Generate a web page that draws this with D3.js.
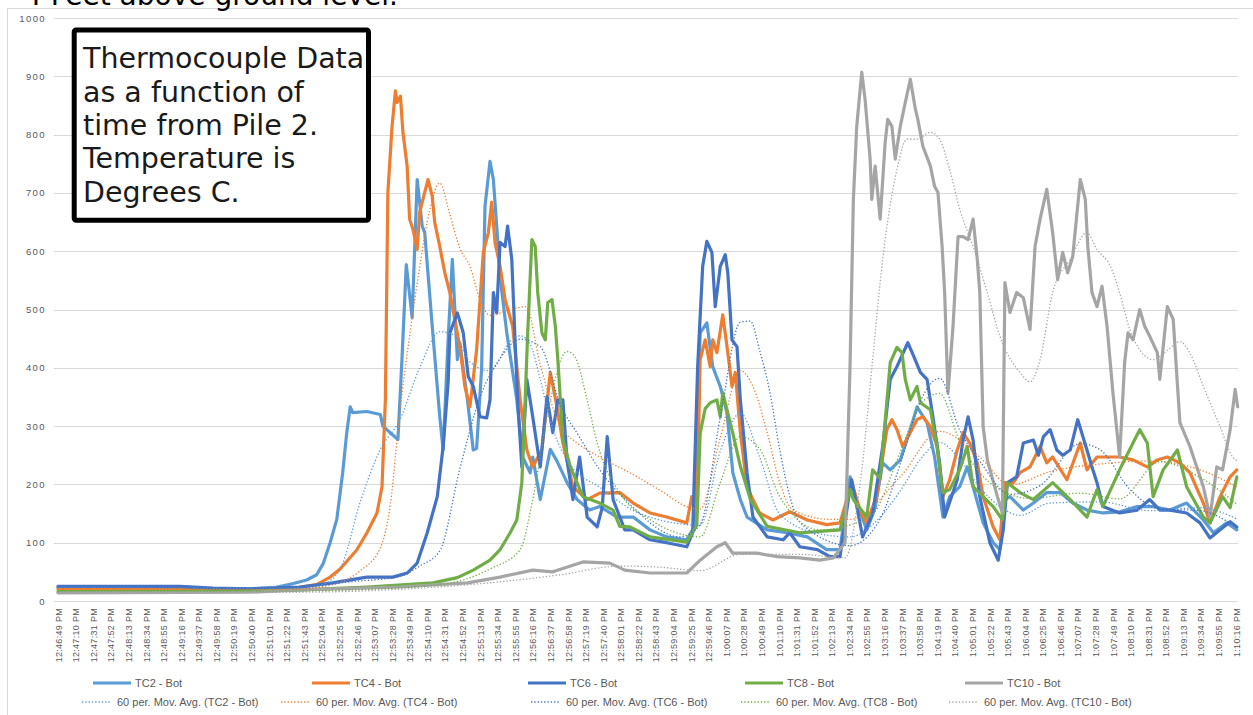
<!DOCTYPE html>
<html>
<head>
<meta charset="utf-8">
<script src="https://cdn.jsdelivr.net/npm/d3@7"></script>
<style>
  body { margin: 0; background: #fff; }
  svg { display: block; }
</style>
</head>
<body>
<div id="chart"></div>
<script>
// readings: [seconds after 12:46:49 PM, temperature in deg C]
var tc2 = [[0,23],[146,23],[185,21],[229,21],[259,23],[281,30],[297,36],[309,45],[317,65],[325,100],[333,140],[340,220],[345,290],[349,333],[352,323],[369,325],[385,320],[388,300],[406,277],[411,420],[416,577],[423,486],[429,723],[435,643],[438,632],[447,471],[451,402],[456,316],[460,259],[466,450],[471,586],[477,414],[480,443],[489,345],[496,259],[500,262],[506,400],[510,677],[516,754],[520,723],[524,643],[528,557],[536,460],[548,345],[555,247],[564,220],[567,247],[576,174],[588,260],[596,240],[608,203],[620,174],[635,156],[647,162],[668,144],[687,144],[707,122],[727,110],[751,105],[761,130],[767,460],[775,477],[782,402],[791,368],[799,323],[806,220],[815,174],[823,144],[847,122],[871,117],[895,110],[918,88],[934,88],[946,213],[954,170],[966,122],[976,160],[985,237],[994,225],[1006,242],[1018,294],[1026,333],[1038,306],[1047,247],[1057,144],[1065,179],[1077,196],[1086,230],[1093,196],[1105,134],[1117,100],[1125,88],[1131,174],[1137,179],[1153,156],[1165,168],[1181,186],[1197,186],[1212,168],[1229,156],[1248,151],[1268,153],[1289,162],[1308,162],[1328,156],[1348,168],[1368,139],[1380,117],[1396,134],[1408,122]];
var tc4 = [[0,20],[170,20],[217,19],[277,21],[309,28],[325,41],[337,55],[357,88],[369,117],[381,151],[387,196],[391,345],[394,701],[399,814],[403,875],[405,855],[409,866],[412,804],[417,746],[420,655],[424,637],[429,603],[432,667],[438,701],[442,723],[447,694],[450,649],[456,608],[462,563],[468,529],[474,482],[480,436],[486,368],[492,333],[500,431],[508,598],[514,632],[518,684],[522,615],[528,574],[534,517],[543,471],[552,345],[560,259],[567,230],[578,260],[588,392],[596,333],[603,271],[615,196],[632,174],[647,185],[671,186],[687,168],[707,151],[727,144],[751,134],[757,179],[763,150],[767,414],[773,448],[779,402],[782,448],[787,426],[794,491],[800,426],[805,368],[809,392],[815,289],[823,196],[830,174],[838,151],[854,139],[874,153],[895,139],[918,131],[934,134],[948,203],[958,156],[966,134],[978,180],[990,294],[996,311],[1002,294],[1009,265],[1018,289],[1026,311],[1033,316],[1042,299],[1050,265],[1057,179],[1065,208],[1074,259],[1081,289],[1089,271],[1098,237],[1105,179],[1117,127],[1125,105],[1131,203],[1141,203],[1149,220],[1161,230],[1173,265],[1181,237],[1188,247],[1205,208],[1221,271],[1229,225],[1241,247],[1268,247],[1284,242],[1301,230],[1313,242],[1325,247],[1340,237],[1352,220],[1368,168],[1376,134],[1388,179],[1400,213],[1408,225]];
var tc6 = [[0,25],[146,25],[185,22],[229,21],[289,24],[328,31],[369,41],[400,41],[417,48],[429,65],[441,117],[453,179],[460,265],[466,375],[468,460],[477,494],[484,460],[490,385],[496,368],[504,316],[512,314],[516,345],[520,529],[524,494],[528,615],[534,608],[537,643],[542,586],[546,443],[549,345],[554,230],[560,380],[567,316],[576,230],[584,350],[591,289],[597,345],[603,345],[608,242],[615,174],[623,247],[632,144],[644,127],[650,160],[656,282],[663,174],[677,122],[687,122],[707,105],[727,100],[751,93],[758,117],[764,402],[770,574],[775,617],[781,598],[785,505],[791,574],[797,594],[800,563],[805,448],[811,436],[815,345],[823,220],[830,144],[847,110],[866,105],[874,117],[886,93],[907,88],[922,76],[934,76],[944,174],[948,208],[961,110],[973,150],[985,265],[994,380],[1002,402],[1015,443],[1022,420],[1030,392],[1038,380],[1045,316],[1053,237],[1059,144],[1074,208],[1081,276],[1087,316],[1093,276],[1101,179],[1113,100],[1123,70],[1129,122],[1134,203],[1145,213],[1153,271],[1165,276],[1171,250],[1177,282],[1185,294],[1193,259],[1200,250],[1209,259],[1218,311],[1229,259],[1236,225],[1241,203],[1248,162],[1268,151],[1289,156],[1304,174],[1316,156],[1328,156],[1348,151],[1364,134],[1376,108],[1388,122],[1400,136],[1408,127]];
var tc8 = [[0,16],[229,17],[289,19],[369,24],[448,31],[477,40],[496,53],[516,70],[528,88],[540,117],[548,139],[554,203],[558,345],[561,460],[566,620],[570,608],[573,529],[578,460],[582,448],[585,512],[590,517],[594,471],[597,414],[603,277],[612,230],[627,179],[647,168],[663,156],[671,128],[683,127],[707,110],[751,101],[763,130],[767,288],[773,330],[779,340],[787,345],[791,316],[794,357],[806,288],[815,231],[827,174],[847,128],[886,117],[934,122],[946,191],[950,174],[966,144],[973,225],[982,210],[994,409],[1002,435],[1008,426],[1012,380],[1018,345],[1026,368],[1030,340],[1042,328],[1050,265],[1057,186],[1065,191],[1077,225],[1086,265],[1093,196],[1105,179],[1117,162],[1128,139],[1134,203],[1149,186],[1165,174],[1188,203],[1209,174],[1229,144],[1241,191],[1248,162],[1268,225],[1284,271],[1292,294],[1301,271],[1308,179],[1320,225],[1337,259],[1348,196],[1368,144],[1376,134],[1391,179],[1400,160],[1408,213]];
var tc10 = [[0,14],[229,15],[289,19],[408,24],[489,31],[528,41],[567,53],[591,50],[627,67],[659,65],[677,53],[707,48],[751,48],[767,70],[787,93],[797,100],[806,82],[835,82],[859,76],[886,74],[910,70],[926,74],[940,100],[946,402],[950,689],[954,814],[960,907],[964,860],[970,758],[972,689],[976,746],[982,655],[988,787],[991,826],[996,814],[1000,758],[1006,814],[1012,855],[1018,895],[1024,844],[1027,826],[1033,780],[1042,746],[1047,711],[1051,701],[1056,608],[1059,529],[1063,357],[1069,471],[1075,625],[1081,625],[1087,620],[1093,655],[1098,586],[1101,529],[1105,299],[1110,242],[1122,179],[1128,151],[1131,546],[1137,495],[1145,529],[1153,520],[1161,466],[1167,608],[1173,655],[1181,706],[1188,632],[1194,551],[1200,598],[1206,563],[1212,591],[1221,723],[1227,689],[1230,608],[1235,529],[1241,505],[1247,540],[1253,471],[1260,357],[1268,247],[1274,409],[1278,460],[1284,448],[1292,500],[1298,471],[1304,454],[1313,426],[1316,380],[1325,505],[1332,483],[1340,306],[1352,265],[1368,196],[1376,144],[1384,230],[1391,225],[1400,294],[1406,363],[1409,333]];

// 60 period moving averages
var ma2 = [[0,24],[277,22],[313,27],[337,55],[361,170],[385,260],[408,310],[432,400],[456,462],[474,455],[492,410],[516,395],[540,445],[552,455],[564,440],[576,380],[588,309],[612,234],[647,195],[695,150],[767,130],[791,257],[815,322],[838,247],[862,149],[910,115],[946,110],[982,144],[1006,189],[1030,243],[1053,272],[1077,243],[1101,195],[1125,162],[1149,147],[1185,168],[1245,170],[1304,155],[1364,160],[1409,140]];
var ma4 = [[0,20],[277,20],[325,27],[361,52],[385,91],[397,166],[408,321],[420,455],[432,573],[444,671],[456,717],[468,663],[480,605],[492,574],[504,517],[516,490],[540,500],[559,505],[576,405],[600,300],[620,271],[647,247],[683,220],[719,190],[755,160],[767,158],[791,280],[815,395],[830,368],[847,289],[862,203],[878,156],[922,140],[946,140],[1006,213],[1053,291],[1101,247],[1137,199],[1185,222],[1245,235],[1304,240],[1364,225],[1409,195]];
var ma6 = [[0,25],[277,22],[349,33],[408,42],[432,60],[456,86],[480,227],[504,349],[528,416],[552,449],[576,436],[600,337],[623,281],[647,225],[683,166],[743,110],[767,131],[791,315],[815,478],[827,480],[838,430],[850,360],[862,260],[874,180],[886,135],[946,95],[982,141],[1006,235],[1030,343],[1053,382],[1077,293],[1101,240],[1137,183],[1173,198],[1221,270],[1245,259],[1280,192],[1316,158],[1364,155],[1409,125]];
var ma8 = [[0,16],[289,17],[456,28],[516,55],[552,88],[567,174],[584,316],[608,428],[617,420],[632,345],[644,271],[671,185],[707,140],[767,110],[791,203],[815,282],[838,261],[862,179],[910,122],[970,145],[1006,255],[1030,338],[1053,356],[1077,274],[1113,203],[1161,176],[1221,185],[1268,175],[1316,239],[1364,212],[1409,165]];
var ma10 = [[0,14],[289,15],[408,20],[528,33],[600,45],[671,60],[719,58],[767,52],[815,80],[886,80],[940,74],[958,200],[973,414],[985,586],[1002,740],[1014,792],[1026,792],[1042,804],[1053,792],[1065,740],[1077,672],[1093,608],[1110,529],[1125,454],[1149,392],[1161,376],[1173,414],[1188,529],[1209,586],[1229,632],[1241,603],[1257,574],[1268,529],[1280,466],[1292,431],[1308,414],[1325,430],[1340,445],[1352,425],[1368,368],[1388,299],[1403,247],[1409,240]];

var seriesNames = ["TC2 - Bot", "TC4 - Bot", "TC6 - Bot", "TC8 - Bot", "TC10 - Bot"];
var seriesColors = ["#5B9BD5", "#ED7D31", "#4472C4", "#70AD47", "#A5A5A5"];
var yTicks = [0, 100, 200, 300, 400, 500, 600, 700, 800, 900, 1000];
var startTime = "12:46:49 PM";
var labelStep = 21;     // seconds between category labels
var lastSecond = 1407;  // 1:10:16 PM
var noteLines = ["Thermocouple Data", "as a function of", "time from Pile 2.", "Temperature is", "Degrees C."];
var headerText = "4 Feet above ground level.";

var width = 1253,
    height = 715;

var svg = d3.select('#chart').append('svg')
    .attr('width', width)
    .attr('height', height)
    .style('font-family', '"Liberation Sans", Arial, sans-serif');

// chart frame + heading of the page above it (only its lower edge shows)
svg.append('rect')
    .attr('x', 7.5).attr('y', 8.5)
    .attr('width', 1300).attr('height', 800)
    .attr('fill', 'none')
    .attr('stroke', '#d9d9d9');

svg.append('text')
    .attr('x', 24).attr('y', 5)
    .style('font-family', '"DejaVu Sans", sans-serif')
    .style('font-size', '28px')
    .attr('fill', '#000')
    .text(headerText);

var x = d3.scaleLinear().domain([0, lastSecond]).range([58, 1236]);
var y = d3.scaleLinear().domain([0, 1000]).range([601, 18]);

// gridlines
svg.append('g')
    .selectAll('line')
    .data(yTicks)
    .enter()
    .append('line')
    .attr('x1', 54).attr('x2', 1238)
    .attr('y1', function(d) { return Math.round(y(d)) + 0.5; })
    .attr('y2', function(d) { return Math.round(y(d)) + 0.5; })
    .attr('stroke', '#d9d9d9')
    .attr('stroke-width', 1);

var yAxis = svg.append('g')
    .attr('transform', 'translate(55,0)')
    .call(d3.axisLeft(y).tickValues(yTicks).tickSize(0).tickPadding(9).tickFormat(d3.format('d')));
yAxis.select('.domain').remove();
yAxis.selectAll('text')
    .attr('fill', '#595959')
    .style('font-size', '9.5px')
    .style('letter-spacing', '1.4px');

var parseTime = d3.timeParse("%I:%M:%S %p");
var formatTime = d3.timeFormat("%-I:%M:%S %p");
var t0 = parseTime(startTime);

var xAxis = svg.append('g')
    .attr('transform', 'translate(0,601)')
    .call(d3.axisBottom(x)
        .tickValues(d3.range(0, lastSecond + 1, labelStep))
        .tickSize(0)
        .tickFormat(function(s) { return formatTime(d3.timeSecond.offset(t0, s)); }));
xAxis.select('.domain').remove();
xAxis.selectAll('text')
    .attr('transform', 'rotate(-90)')
    .attr('text-anchor', 'end')
    .attr('x', -7)
    .attr('y', 0)
    .attr('dy', '0.35em')
    .attr('fill', '#595959')
    .style('font-size', '9px')
    .style('letter-spacing', '0.3px');

var line = d3.line()
    .x(function(d) { return x(d[0]); })
    .y(function(d) { return y(d[1]); });

var series = [tc2, tc4, tc6, tc8, tc10];
var averages = [ma2, ma4, ma6, ma8, ma10];

svg.append('g')
    .selectAll('path')
    .data(series)
    .enter()
    .append('path')
    .attr('d', line)
    .attr('fill', 'none')
    .attr('stroke', function(d, i) { return seriesColors[i]; })
    .attr('stroke-width', 3.2)
    .attr('stroke-linejoin', 'round')
    .attr('stroke-linecap', 'round');

svg.append('g')
    .selectAll('path')
    .data(averages)
    .enter()
    .append('path')
    .attr('d', line.curve(d3.curveMonotoneX))
    .attr('fill', 'none')
    .attr('stroke', function(d, i) { return seriesColors[i]; })
    .attr('stroke-width', 1.3)
    .attr('stroke-dasharray', '1.3,2');

// legend, two rows
var legendRow1 = [93, 312, 528, 745, 965];
var legendRow2 = [82, 281, 531, 741, 949];

var leg1 = svg.append('g').selectAll('g')
    .data(seriesNames)
    .enter()
    .append('g')
    .attr('transform', function(d, i) { return 'translate(' + legendRow1[i] + ',683)'; });
leg1.append('line')
    .attr('x1', 0).attr('x2', 38)
    .attr('stroke', function(d, i) { return seriesColors[i]; })
    .attr('stroke-width', 3);
leg1.append('text')
    .attr('x', 42).attr('dy', '0.35em')
    .attr('fill', '#595959')
    .style('font-size', '11px')
    .text(function(d) { return d; });

var leg2 = svg.append('g').selectAll('g')
    .data(seriesNames)
    .enter()
    .append('g')
    .attr('transform', function(d, i) { return 'translate(' + legendRow2[i] + ',702)'; });
leg2.append('line')
    .attr('x1', 0).attr('x2', 28)
    .attr('stroke', function(d, i) { return seriesColors[i]; })
    .attr('stroke-width', 1.3)
    .attr('stroke-dasharray', '1.3,2');
leg2.append('text')
    .attr('x', 35).attr('dy', '0.35em')
    .attr('fill', '#595959')
    .style('font-size', '11px')
    .text(function(d) { return '60 per. Mov. Avg. (' + d + ')'; });

// note box on top of the plot
svg.append('rect')
    .attr('x', 74.2).attr('y', 30)
    .attr('width', 294.3).attr('height', 190.3)
    .attr('rx', 2)
    .attr('fill', '#fff')
    .attr('stroke', '#000')
    .attr('stroke-width', 5);

svg.append('text')
    .attr('x', 83)
    .style('font-family', '"DejaVu Sans", sans-serif')
    .style('font-size', '28.5px')
    .attr('fill', '#1a1a1a')
    .selectAll('tspan')
    .data(noteLines)
    .enter()
    .append('tspan')
    .attr('x', 83)
    .attr('y', function(d, i) { return 68.3 + i * 33.35; })
    .text(function(d) { return d; });
</script>
</body>
</html>
